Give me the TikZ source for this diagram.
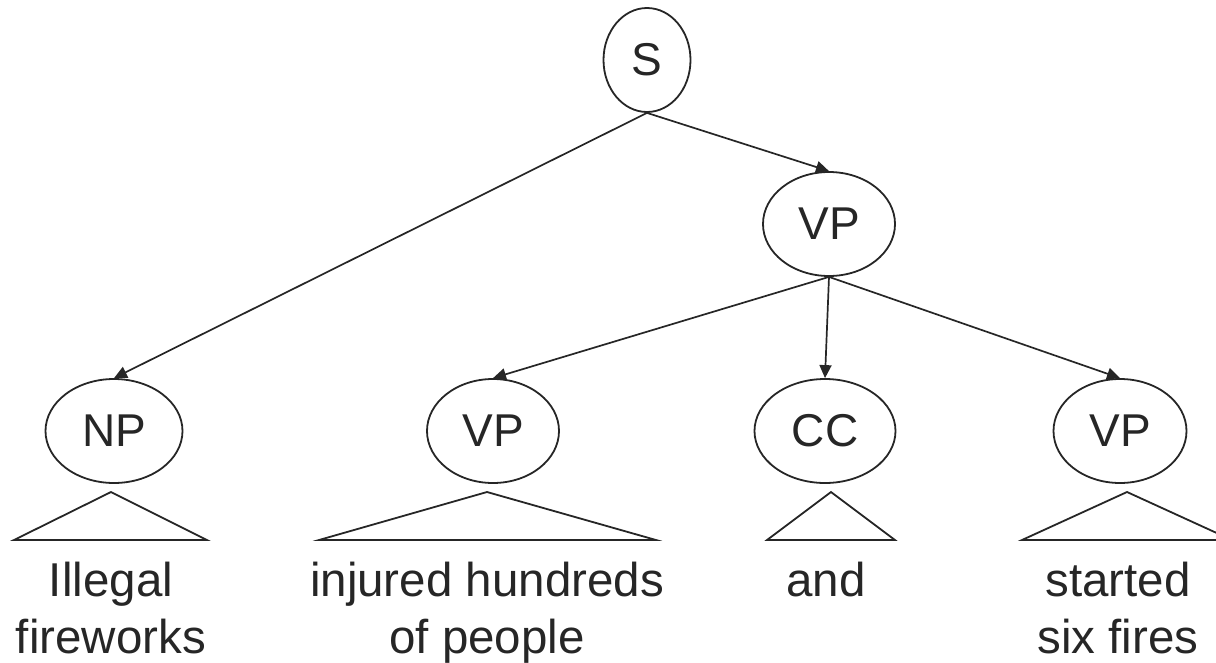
\documentclass[tikz,border=0pt]{standalone}
\usepackage{fontspec}
\setmainfont{Liberation Sans}
\usetikzlibrary{shapes.geometric,arrows.meta}
\definecolor{ink}{HTML}{262626}
\tikzset{
  cat/.style={ellipse,draw=ink,line width=1.8pt,inner sep=0pt,minimum height=104pt,text=ink,font=\fontsize{46}{57}\selectfont},
  edge/.style={draw=ink,line width=1.7pt,-{Triangle[length=13pt,width=12pt]}},
  tri/.style={draw=ink,line width=1.8pt,line join=miter},
  words/.style={anchor=north,inner sep=0pt,align=center,text=ink,font=\fontsize{47.5}{57}\selectfont},
}
\begin{document}
\begin{tikzpicture}[x=1pt,y=-1pt]
\useasboundingbox (0,0) rectangle (1216,662);
\node[cat,minimum width=87pt] (S) at (647,60) {S};
\node[cat,minimum width=132pt] (VP) at (829,224) {VP};
\node[cat,minimum width=137pt] (NP) at (114,431) {NP};
\node[cat,minimum width=132pt] (VP2) at (493,431) {VP};
\node[cat,minimum width=141pt] (CC) at (825,431) {CC};
\node[cat,minimum width=133pt] (VP3) at (1120,431) {VP};
\draw[edge] (S.south) -- (NP.north);
\draw[edge] (S.south) -- (VP.north);
\draw[edge] (VP.south) -- (VP2.north);
\draw[edge] (VP.south) -- (CC.north);
\draw[edge] (VP.south) -- (VP3.north);
\draw[tri] (111,492) -- (14,540) -- (207,540) -- cycle;
\draw[tri] (487,492) -- (319,540) -- (656,540) -- cycle;
\draw[tri] (831,492) -- (767,540) -- (895,540) -- cycle;
\draw[tri] (1127,492) -- (1022,540) -- (1232,540) -- cycle;
\node[words] (t1) at (111,562) {Illegal\\fireworks};
\node[words] (t2) at (487,562) {injured hundreds\\of people};
\node[words] (t3) at (826,562) {and};
\node[words] (t4) at (1118,562) {started\\six fires};
\end{tikzpicture}
\end{document}
